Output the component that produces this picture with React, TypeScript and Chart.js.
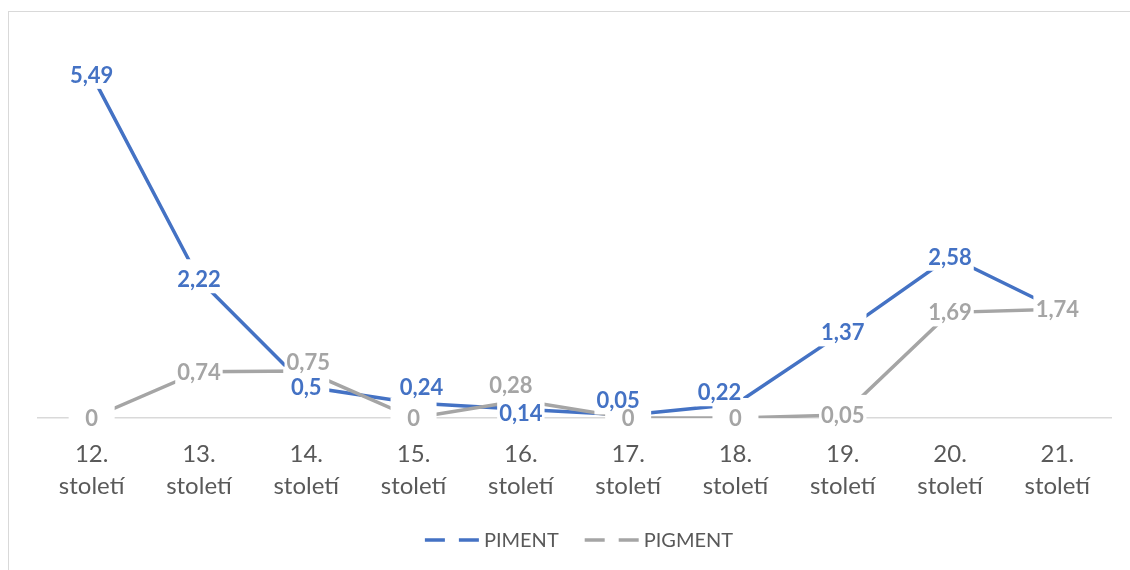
import { useEffect, useRef } from "react";
import { Chart, registerables } from "chart.js";

Chart.register(...registerables);

// Categories and series values
const CENTURIES = ["12.", "13.", "14.", "15.", "16.", "17.", "18.", "19.", "20.", "21."];
const CENTURY_WORD = "století";
const PIMENT = [5.49, 2.22, 0.5, 0.24, 0.14, 0.05, 0.22, 1.37, 2.58, 1.74];
const PIGMENT = [0, 0.74, 0.75, 0, 0.28, 0, 0, 0.05, 1.69, 1.74];
const SERIES_NAMES = ["PIMENT", "PIGMENT"];
const Y_MAX = 6;

const BLUE = "#4472C4";
const GRAY = "#A5A5A5";
const TEXT = "#595959";
const FONT = "Lato, 'Noto Sans', sans-serif";

// Hand-placed shifts (px) for labels that would otherwise collide, keyed "dataset-point"
const LABEL_SHIFT: Record<string, [number, number]> = {
  "0-3": [8, -16],
  "0-4": [0, 4],
  "0-5": [-10, -14.5],
  "0-6": [-16, -12],
  "1-2": [2, -9],
  "1-4": [-10, -15.5],
};

const formatValue = (v: number) => String(v).replace(".", ",");

// Value labels on white boxes that break the lines beneath them
const valueLabels = {
  id: "valueLabels",
  afterDatasetsDraw(chart: any) {
    const ctx: CanvasRenderingContext2D = chart.ctx;
    ctx.save();
    ctx.font = `bold 22px ${FONT}`;
    const items: { x: number; y: number; w: number; text: string; color: string }[] = [];
    chart.data.datasets.forEach((ds: any, di: number) => {
      const meta = chart.getDatasetMeta(di);
      meta.data.forEach((pt: any, i: number) => {
        const shift = LABEL_SHIFT[`${di}-${i}`] || [0, 0];
        const text = formatValue(ds.data[i]);
        const w = Math.max(46, ctx.measureText(text).width + 4);
        items.push({ x: pt.x + shift[0], y: pt.y + shift[1], w, text, color: ds.borderColor });
      });
    });
    ctx.fillStyle = "#ffffff";
    items.forEach((it) => ctx.fillRect(it.x - it.w / 2, it.y - 20, it.w, 34));
    ctx.textAlign = "center";
    ctx.textBaseline = "middle";
    items.forEach((it, k) => {
      // a label sitting exactly under a later one stays hidden
      const covered = items.some(
        (o, j) => j > k && Math.abs(o.x - it.x) < 4 && Math.abs(o.y - it.y) < 4
      );
      if (covered) return;
      ctx.fillStyle = it.color;
      ctx.fillText(it.text, it.x, it.y + 1);
    });
    ctx.restore();
  },
};

// Legend with dashed line swatches below the axis
const dashedLegend = {
  id: "dashedLegend",
  afterDraw(chart: any) {
    const ctx: CanvasRenderingContext2D = chart.ctx;
    const centerX = 579;
    const y = 540;
    const swatch = 54;
    const dash = 20;
    const textGap = 5;
    const itemGap = 26;
    ctx.save();
    ctx.font = `20px ${FONT}`;
    const widths = chart.data.datasets.map((ds: any) => swatch + textGap + ctx.measureText(ds.label).width);
    const total = widths.reduce((a: number, b: number) => a + b, 0) + itemGap * (widths.length - 1);
    let x = centerX - total / 2;
    chart.data.datasets.forEach((ds: any, i: number) => {
      ctx.strokeStyle = ds.borderColor;
      ctx.lineWidth = 3.5;
      ctx.lineCap = "butt";
      ctx.beginPath();
      ctx.moveTo(x, y);
      ctx.lineTo(x + dash, y);
      ctx.moveTo(x + swatch - dash, y);
      ctx.lineTo(x + swatch, y);
      ctx.stroke();
      ctx.fillStyle = TEXT;
      ctx.textAlign = "left";
      ctx.textBaseline = "middle";
      ctx.fillText(ds.label, x + swatch + textGap, y + 1);
      x += widths[i] + itemGap;
    });
    ctx.restore();
  },
};

export default function App() {
  const canvasRef = useRef<HTMLCanvasElement | null>(null);

  useEffect(() => {
    if (!canvasRef.current) return;
    const chart = new Chart(canvasRef.current, {
      type: "line",
      data: {
        labels: CENTURIES.map((c) => [c, CENTURY_WORD]),
        datasets: [
          {
            label: SERIES_NAMES[0],
            data: PIMENT,
            borderColor: BLUE,
            backgroundColor: BLUE,
            borderWidth: 3.5,
            pointRadius: 0,
            tension: 0,
            order: 1,
          },
          {
            label: SERIES_NAMES[1],
            data: PIGMENT,
            borderColor: GRAY,
            backgroundColor: GRAY,
            borderWidth: 3.5,
            pointRadius: 0,
            tension: 0,
            order: 0,
          },
        ],
      },
      options: {
        animation: false,
        responsive: true,
        maintainAspectRatio: false,
        layout: { padding: { left: 38, right: 19, top: 43, bottom: 67 } },
        plugins: {
          legend: { display: false },
          tooltip: { enabled: false },
        },
        scales: {
          x: {
            offset: true,
            grid: { display: false, drawTicks: false },
            border: { display: true, color: "#D9D9D9", width: 1.5 },
            ticks: {
              color: TEXT,
              font: { family: FONT, size: 24, lineHeight: 1.35 },
              padding: 20,
              maxRotation: 0,
              autoSkip: false,
            },
            afterFit(scale: any) {
              scale.height = 85;
            },
          },
          y: { display: false, min: 0, max: Y_MAX },
        },
      },
      plugins: [valueLabels, dashedLegend],
    });
    return () => chart.destroy();
  }, []);

  return (
    <div style={{ position: "absolute", left: 0, top: 0, width: 1130, height: 570, background: "#fff" }}>
      <div
        style={{
          position: "absolute",
          left: 8,
          top: 11,
          width: 1122,
          height: 559,
          boxSizing: "border-box",
          borderLeft: "1.5px solid #D9D9D9",
          borderTop: "1.5px solid #D9D9D9",
        }}
      />
      <canvas ref={canvasRef} style={{ position: "absolute", left: 0, top: 0 }} />
    </div>
  );
}
